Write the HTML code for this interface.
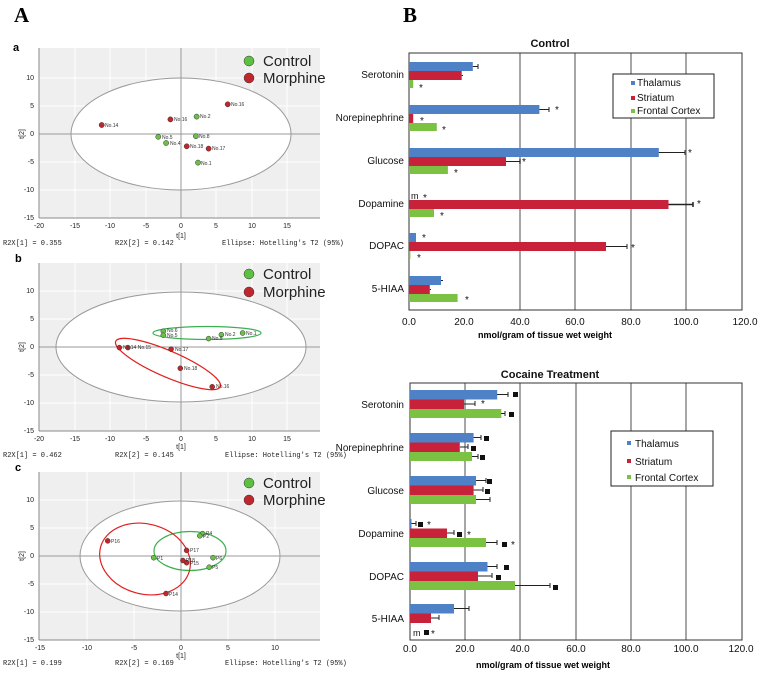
<!DOCTYPE html>
<html><head><meta charset="utf-8"><style>
body{margin:0;background:#fff}
svg{display:block}
.m{font-family:"Liberation Mono",monospace;font-size:7px;fill:#222}
.t{font-family:"Liberation Sans",sans-serif;font-size:7px;fill:#222}
.s{font-family:"Liberation Sans",sans-serif;font-size:5px;fill:#333}
.lg{font-family:"Liberation Sans",sans-serif;font-size:15px;fill:#222}
.c{font-family:"Liberation Sans",sans-serif;font-size:10px;fill:#111}
.b{font-family:"Liberation Sans",sans-serif;font-size:11px;font-weight:bold;fill:#111}
</style></head><body>
<svg width="760" height="673" viewBox="0 0 760 673" xmlns="http://www.w3.org/2000/svg">
<defs>
<g id="bg">
<rect x="39" y="0" width="281" height="170" fill="#efefef"/>
</g>
</defs>
<text x="14" y="22" font-family="Liberation Serif,serif" font-size="21" font-weight="bold">A</text>
<text x="403" y="22" font-family="Liberation Serif,serif" font-size="21" font-weight="bold">B</text>

<!-- Panel a -->
<text x="13" y="51" font-family="Liberation Sans,sans-serif" font-size="11" font-weight="bold">a</text>
<rect x="39" y="48" width="281" height="170" fill="#efefef"/>
<g stroke="#fff" stroke-width="1"><line x1="75" y1="48" x2="75" y2="218"/><line x1="110" y1="48" x2="110" y2="218"/><line x1="146" y1="48" x2="146" y2="218"/><line x1="216" y1="48" x2="216" y2="218"/><line x1="252" y1="48" x2="252" y2="218"/><line x1="287" y1="48" x2="287" y2="218"/><line x1="39" y1="78" x2="320" y2="78"/><line x1="39" y1="106" x2="320" y2="106"/><line x1="39" y1="162" x2="320" y2="162"/><line x1="39" y1="190" x2="320" y2="190"/></g>
<ellipse cx="181" cy="134" rx="110" ry="56" fill="#fff" stroke="#999" stroke-width="1"/>
<line x1="39" y1="134" x2="320" y2="134" stroke="#999"/><line x1="181" y1="48" x2="181" y2="218" stroke="#999"/>
<line x1="39" y1="218" x2="320" y2="218" stroke="#888"/><line x1="39" y1="218" x2="39" y2="48" stroke="#888"/>
<g class="t" text-anchor="end"><text x="34" y="80">10</text><text x="34" y="108">5</text><text x="34" y="136">0</text><text x="34" y="164">-5</text><text x="34" y="192">-10</text><text x="34" y="220">-15</text></g>
<g class="t" text-anchor="middle"><text x="39" y="228">-20</text><text x="75" y="228">-15</text><text x="110" y="228">-10</text><text x="146" y="228">-5</text><text x="181" y="228">0</text><text x="216" y="228">5</text><text x="252" y="228">10</text><text x="287" y="228">15</text><text x="181" y="238">t[1]</text></g>
<text class="t" x="24" y="134" transform="rotate(-90 24 134)" text-anchor="middle">t[2]</text>
<g stroke="#333" stroke-width=".5">
<circle cx="101.7" cy="125" r="2.6" fill="#c0272d"/><circle cx="170.4" cy="119.4" r="2.6" fill="#c0272d"/><circle cx="196.6" cy="116.6" r="2.6" fill="#6cc04a"/><circle cx="227.7" cy="104.3" r="2.6" fill="#c0272d"/><circle cx="158.3" cy="136.8" r="2.6" fill="#6cc04a"/><circle cx="166.1" cy="143" r="2.6" fill="#6cc04a"/><circle cx="195.9" cy="136.2" r="2.6" fill="#6cc04a"/><circle cx="186.7" cy="146.3" r="2.6" fill="#c0272d"/><circle cx="208.6" cy="148.6" r="2.6" fill="#c0272d"/><circle cx="198" cy="162.6" r="2.6" fill="#6cc04a"/>
</g>
<g class="s"><text x="105" y="127">No.14</text><text x="174" y="121">No.16</text><text x="200" y="118">No.2</text><text x="231" y="106">No.16</text><text x="162" y="139">No.5</text><text x="170" y="145">No.4</text><text x="199" y="138">No.8</text><text x="190" y="148">No.18</text><text x="212" y="150">No.17</text><text x="201" y="165">No.1</text></g>
<circle cx="249" cy="61" r="5" fill="#5cc040" stroke="#333" stroke-width=".5"/><text class="lg" x="263" y="66">Control</text>
<circle cx="249" cy="78" r="5" fill="#c0272d" stroke="#333" stroke-width=".5"/><text class="lg" x="263" y="83">Morphine</text>
<g class="m"><text x="3" y="245">R2X[1] = 0.355</text><text x="115" y="245">R2X[2] = 0.142</text><text x="222" y="245">Ellipse: Hotelling's T2 (95%)</text></g>

<!-- Panel b -->
<text x="15" y="262" font-family="Liberation Sans,sans-serif" font-size="11" font-weight="bold">b</text>
<rect x="39" y="263" width="281" height="168" fill="#efefef"/>
<g stroke="#fff"><line x1="75" y1="263" x2="75" y2="431"/><line x1="110" y1="263" x2="110" y2="431"/><line x1="146" y1="263" x2="146" y2="431"/><line x1="216" y1="263" x2="216" y2="431"/><line x1="252" y1="263" x2="252" y2="431"/><line x1="287" y1="263" x2="287" y2="431"/><line x1="39" y1="291" x2="320" y2="291"/><line x1="39" y1="319" x2="320" y2="319"/><line x1="39" y1="375" x2="320" y2="375"/><line x1="39" y1="403" x2="320" y2="403"/></g>
<ellipse cx="181" cy="347" rx="125" ry="55" fill="#fff" stroke="#999"/>
<line x1="39" y1="347" x2="320" y2="347" stroke="#999"/><line x1="181" y1="263" x2="181" y2="431" stroke="#999"/>
<line x1="39" y1="431" x2="320" y2="431" stroke="#888"/><line x1="39" y1="431" x2="39" y2="263" stroke="#888"/>
<ellipse cx="207" cy="333" rx="54" ry="6.5" fill="none" stroke="#3cb050" stroke-width="1.2"/>
<ellipse cx="168" cy="364" rx="57" ry="13" fill="none" stroke="#e02020" stroke-width="1.2" transform="rotate(23.5 168 364)"/>
<g class="t" text-anchor="end"><text x="34" y="293">10</text><text x="34" y="321">5</text><text x="34" y="349">0</text><text x="34" y="377">-5</text><text x="34" y="405">-10</text><text x="34" y="433">-15</text></g>
<g class="t" text-anchor="middle"><text x="39" y="441">-20</text><text x="75" y="441">-15</text><text x="110" y="441">-10</text><text x="146" y="441">-5</text><text x="181" y="441">0</text><text x="216" y="441">5</text><text x="252" y="441">10</text><text x="287" y="441">15</text><text x="181" y="449">t[1]</text></g>
<text class="t" x="24" y="347" transform="rotate(-90 24 347)" text-anchor="middle">t[2]</text>
<g stroke="#333" stroke-width=".5">
<circle cx="163.3" cy="331.3" r="2.5" fill="#6cc04a"/><circle cx="163.3" cy="335.2" r="2.5" fill="#6cc04a"/><circle cx="208.6" cy="338.6" r="2.5" fill="#6cc04a"/><circle cx="221.4" cy="334.7" r="2.5" fill="#6cc04a"/><circle cx="242.6" cy="333" r="2.5" fill="#6cc04a"/>
<circle cx="119.4" cy="347.6" r="2.5" fill="#c0272d"/><circle cx="127.9" cy="347.6" r="2.5" fill="#c0272d"/><circle cx="171.1" cy="349.2" r="2.5" fill="#c0272d"/><circle cx="180.3" cy="368.3" r="2.5" fill="#c0272d"/><circle cx="212.2" cy="386.8" r="2.5" fill="#c0272d"/>
</g>
<g class="s"><text x="167" y="332">No.6</text><text x="167" y="337">No.5</text><text x="212" y="340">No.9</text><text x="225" y="336">No.2</text><text x="246" y="335">No.1</text><text x="123" y="349">No.14 No.15</text><text x="175" y="351">No.17</text><text x="184" y="370">No.18</text><text x="216" y="388">No.16</text></g>
<circle cx="249" cy="274" r="5" fill="#5cc040" stroke="#333" stroke-width=".5"/><text class="lg" x="263" y="279">Control</text>
<circle cx="249" cy="292" r="5" fill="#c0272d" stroke="#333" stroke-width=".5"/><text class="lg" x="263" y="297">Morphine</text>
<g class="m"><text x="3" y="457">R2X[1] = 0.462</text><text x="115" y="457">R2X[2] = 0.145</text><text x="225" y="457">Ellipse: Hotelling's T2 (95%)</text></g>

<!-- Panel c -->
<text x="15" y="471" font-family="Liberation Sans,sans-serif" font-size="11" font-weight="bold">c</text>
<rect x="39" y="472" width="281" height="168" fill="#efefef"/>
<g stroke="#fff"><line x1="87" y1="472" x2="87" y2="640"/><line x1="134" y1="472" x2="134" y2="640"/><line x1="228" y1="472" x2="228" y2="640"/><line x1="275" y1="472" x2="275" y2="640"/><line x1="39" y1="500" x2="320" y2="500"/><line x1="39" y1="528" x2="320" y2="528"/><line x1="39" y1="584" x2="320" y2="584"/><line x1="39" y1="612" x2="320" y2="612"/></g>
<ellipse cx="180" cy="556" rx="100" ry="55" fill="#fff" stroke="#999"/>
<line x1="39" y1="556" x2="320" y2="556" stroke="#999"/><line x1="181" y1="472" x2="181" y2="640" stroke="#999"/>
<line x1="39" y1="640" x2="320" y2="640" stroke="#888"/><line x1="39" y1="640" x2="39" y2="472" stroke="#888"/>
<ellipse cx="190" cy="551" rx="36" ry="19.5" fill="none" stroke="#3cb050" stroke-width="1.2"/>
<ellipse cx="145" cy="559" rx="46" ry="35" fill="none" stroke="#e02020" stroke-width="1.2" transform="rotate(15 145 559)"/>
<g class="t" text-anchor="end"><text x="34" y="502">10</text><text x="34" y="530">5</text><text x="34" y="558">0</text><text x="34" y="586">-5</text><text x="34" y="614">-10</text><text x="34" y="642">-15</text></g>
<g class="t" text-anchor="middle"><text x="40" y="650">-15</text><text x="87" y="650">-10</text><text x="134" y="650">-5</text><text x="181" y="650">0</text><text x="228" y="650">5</text><text x="275" y="650">10</text><text x="181" y="658">t[1]</text></g>
<text class="t" x="24" y="556" transform="rotate(-90 24 556)" text-anchor="middle">t[2]</text>
<g stroke="#333" stroke-width=".5">
<circle cx="107.7" cy="540.9" r="2.5" fill="#c0272d"/><circle cx="186.6" cy="550.4" r="2.5" fill="#c0272d"/><circle cx="182.9" cy="560.5" r="2.5" fill="#c0272d"/><circle cx="186.6" cy="562.7" r="2.5" fill="#c0272d"/><circle cx="166" cy="593.5" r="2.5" fill="#c0272d"/>
<circle cx="153.7" cy="557.7" r="2.5" fill="#6cc04a"/><circle cx="202.6" cy="533.6" r="2.5" fill="#6cc04a"/><circle cx="199.8" cy="535.8" r="2.5" fill="#6cc04a"/><circle cx="213" cy="557.7" r="2.5" fill="#6cc04a"/><circle cx="209.2" cy="567.2" r="2.5" fill="#6cc04a"/>
</g>
<g class="s"><text x="111" y="543">P16</text><text x="190" y="552">P17</text><text x="186" y="562">P18</text><text x="190" y="565">P15</text><text x="169" y="596">P14</text><text x="157" y="560">P1</text><text x="206" y="535">P4</text><text x="203" y="538">P2</text><text x="216" y="560">P6</text><text x="212" y="569">P5</text></g>
<circle cx="249" cy="483" r="5" fill="#5cc040" stroke="#333" stroke-width=".5"/><text class="lg" x="263" y="488">Control</text>
<circle cx="249" cy="500" r="5" fill="#c0272d" stroke="#333" stroke-width=".5"/><text class="lg" x="263" y="505">Morphine</text>
<g class="m"><text x="3" y="665">R2X[1] = 0.199</text><text x="115" y="665">R2X[2] = 0.169</text><text x="225" y="665">Ellipse: Hotelling's T2 (95%)</text></g>

<!-- Control bar chart -->
<text class="b" x="550" y="47" text-anchor="middle">Control</text>
<g stroke="#888" stroke-width="1.5"><line x1="520" y1="53" x2="520" y2="310"/><line x1="575" y1="53" x2="575" y2="310"/><line x1="631" y1="53" x2="631" y2="310"/><line x1="686" y1="53" x2="686" y2="310"/></g>
<rect x="409" y="53" width="333" height="257" fill="none" stroke="#333" stroke-width="1"/>
<g class="c" text-anchor="end"><text x="404" y="78">Serotonin</text><text x="404" y="121">Norepinephrine</text><text x="404" y="164">Glucose</text><text x="404" y="207">Dopamine</text><text x="404" y="249">DOPAC</text><text x="404" y="292">5-HIAA</text></g>
<g>
<rect x="409" y="62" width="63.8" height="9" fill="#4f81c7"/><rect x="409" y="71" width="52.7" height="9" fill="#c8213a"/><rect x="409" y="80" width="4.2" height="8" fill="#7cc242"/>
<rect x="409" y="105" width="130.4" height="9" fill="#4f81c7"/><rect x="409" y="114" width="4.2" height="9" fill="#c8213a"/><rect x="409" y="123" width="27.8" height="8" fill="#7cc242"/>
<rect x="409" y="148" width="249.8" height="9" fill="#4f81c7"/><rect x="409" y="157" width="97" height="9" fill="#c8213a"/><rect x="409" y="166" width="38.9" height="8" fill="#7cc242"/>
<rect x="409" y="200" width="259.5" height="9" fill="#c8213a"/><rect x="409" y="209" width="25" height="8" fill="#7cc242"/>
<rect x="409" y="233" width="7" height="9" fill="#4f81c7"/><rect x="409" y="242" width="197" height="9" fill="#c8213a"/><rect x="409" y="251" width="1.4" height="8" fill="#7cc242"/>
<rect x="409" y="276" width="32" height="9" fill="#4f81c7"/><rect x="409" y="285" width="20.8" height="9" fill="#c8213a"/><rect x="409" y="294" width="48.6" height="8" fill="#7cc242"/>
</g>
<g stroke="#222" stroke-width="1"><path d="M472.8 66.5H478M478 64v5M461.7 75.5H463"/><path d="M539.4 109.5H549M549 107v5"/><path d="M658.8 152.5H685M685 150v5M506 161.5H520M520 159v5"/><path d="M668.5 204.5H693M693 202v5" stroke-width="1.5"/><path d="M606 246.5H627M627 244v5"/><path d="M441 280.5H443M429.8 289.5H431"/></g>
<g font-family="Liberation Sans,sans-serif" font-size="10" fill="#111"><text x="419" y="91">*</text><text x="555" y="113">*</text><text x="420" y="124">*</text><text x="442" y="133">*</text><text x="688" y="156">*</text><text x="522" y="165">*</text><text x="454" y="176">*</text><text x="411" y="199" font-size="9">m</text><text x="423" y="201">*</text><text x="697" y="207">*</text><text x="440" y="219">*</text><text x="422" y="241">*</text><text x="631" y="251">*</text><text x="417" y="261">*</text><text x="465" y="303">*</text></g>
<rect x="613" y="74" width="101" height="44" fill="#fff" stroke="#222" stroke-width="1"/>
<rect x="631" y="81" width="4" height="4" fill="#4f81c7"/><text class="c" x="637" y="86" font-size="9">Thalamus</text>
<rect x="631" y="96" width="4" height="4" fill="#c8213a"/><text class="c" x="637" y="101" font-size="9">Striatum</text>
<rect x="631" y="109" width="4" height="4" fill="#7cc242"/><text class="c" x="637" y="114" font-size="9">Frontal Cortex</text>
<g class="c" text-anchor="middle"><text x="409" y="325">0.0</text><text x="464" y="325">20.0</text><text x="520" y="325">40.0</text><text x="575" y="325">60.0</text><text x="631" y="325">80.0</text><text x="686" y="325">100.0</text><text x="745" y="325">120.0</text></g>
<text x="545" y="338" text-anchor="middle" font-family="Liberation Sans,sans-serif" font-size="9" font-weight="bold">nmol/gram of tissue wet  weight</text>

<!-- Cocaine bar chart -->
<text class="b" x="550" y="378" text-anchor="middle">Cocaine Treatment</text>
<g stroke="#888" stroke-width="1.5"><line x1="465" y1="383" x2="465" y2="640"/><line x1="520" y1="383" x2="520" y2="640"/><line x1="576" y1="383" x2="576" y2="640"/><line x1="631" y1="383" x2="631" y2="640"/><line x1="686" y1="383" x2="686" y2="640"/></g>
<rect x="410" y="383" width="332" height="257" fill="none" stroke="#333" stroke-width="1"/>
<g class="c" text-anchor="end"><text x="404" y="408">Serotonin</text><text x="404" y="451">Norepinephrine</text><text x="404" y="494">Glucose</text><text x="404" y="537">Dopamine</text><text x="404" y="580">DOPAC</text><text x="404" y="622">5-HIAA</text></g>
<g>
<rect x="410" y="390" width="87.2" height="9.5" fill="#4f81c7"/><rect x="410" y="399.5" width="54" height="9.5" fill="#c8213a"/><rect x="410" y="409" width="91.3" height="9" fill="#7cc242"/>
<rect x="410" y="433" width="63.6" height="9.5" fill="#4f81c7"/><rect x="410" y="442.5" width="49.8" height="9.5" fill="#c8213a"/><rect x="410" y="452" width="62" height="9" fill="#7cc242"/>
<rect x="410" y="476" width="66" height="9.5" fill="#4f81c7"/><rect x="410" y="485.5" width="63.6" height="9.5" fill="#c8213a"/><rect x="410" y="495" width="66" height="9" fill="#7cc242"/>
<rect x="410" y="519" width="1.5" height="9.5" fill="#4f81c7"/><rect x="410" y="528.5" width="37" height="9.5" fill="#c8213a"/><rect x="410" y="538" width="76" height="9" fill="#7cc242"/>
<rect x="410" y="562" width="77.5" height="9.5" fill="#4f81c7"/><rect x="410" y="571.5" width="68" height="9.5" fill="#c8213a"/><rect x="410" y="581" width="105" height="9" fill="#7cc242"/>
<rect x="410" y="604" width="44" height="9.5" fill="#4f81c7"/><rect x="410" y="613.5" width="21" height="9.5" fill="#c8213a"/>
</g>
<g stroke="#222" stroke-width="1"><path d="M497 394.5H508M508 392v5M464 404H475M475 401v5M501 413.5H505M505 411v5"/><path d="M473.6 437.5H481M481 435v5M460 447H468M468 444v5M472 456.5H478M478 454v5"/><path d="M476 480.5H486M486 478v5M473.6 490H483M483 487v5M476 499.5H490M490 497v5"/><path d="M411.5 523.5H416M416 521v5M447 533H454M454 530v5M486 542.5H497M497 540v5"/><path d="M487.5 566.5H497M497 564v5M478 576H492M492 573v5M515 585.5H550M550 583v5"/><path d="M454 608.5H469M469 606v5M431 618H439M439 615v5"/></g>
<g fill="#111"><rect x="513" y="392" width="5" height="5"/><rect x="509" y="412" width="5" height="5"/><rect x="484" y="436" width="5" height="5"/><rect x="471" y="446" width="5" height="5"/><rect x="480" y="455" width="5" height="5"/><rect x="487" y="479" width="5" height="5"/><rect x="485" y="489" width="5" height="5"/><rect x="418" y="522" width="5" height="5"/><rect x="457" y="532" width="5" height="5"/><rect x="502" y="542" width="5" height="5"/><rect x="504" y="565" width="5" height="5"/><rect x="496" y="575" width="5" height="5"/><rect x="553" y="585" width="5" height="5"/><rect x="424" y="630" width="5" height="5"/></g>
<g font-family="Liberation Sans,sans-serif" font-size="10" fill="#111"><text x="481" y="407">*</text><text x="427" y="528">*</text><text x="467" y="538">*</text><text x="511" y="548">*</text><text x="413" y="636" font-size="9">m</text><text x="431" y="637">*</text></g>
<rect x="611" y="431" width="102" height="55" fill="#fff" stroke="#222" stroke-width="1"/>
<rect x="627" y="441" width="4" height="4" fill="#4f81c7"/><text class="c" x="635" y="447" font-size="9">Thalamus</text>
<rect x="627" y="459" width="4" height="4" fill="#c8213a"/><text class="c" x="635" y="465" font-size="9">Striatum</text>
<rect x="627" y="475" width="4" height="4" fill="#7cc242"/><text class="c" x="635" y="481" font-size="9">Frontal Cortex</text>
<g class="c" text-anchor="middle"><text x="410" y="652">0.0</text><text x="465" y="652">20.0</text><text x="520" y="652">40.0</text><text x="576" y="652">60.0</text><text x="631" y="652">80.0</text><text x="686" y="652">100.0</text><text x="741" y="652">120.0</text></g>
<text x="543" y="668" text-anchor="middle" font-family="Liberation Sans,sans-serif" font-size="9" font-weight="bold">nmol/gram of tissue wet weight</text>
</svg>
</body></html>
